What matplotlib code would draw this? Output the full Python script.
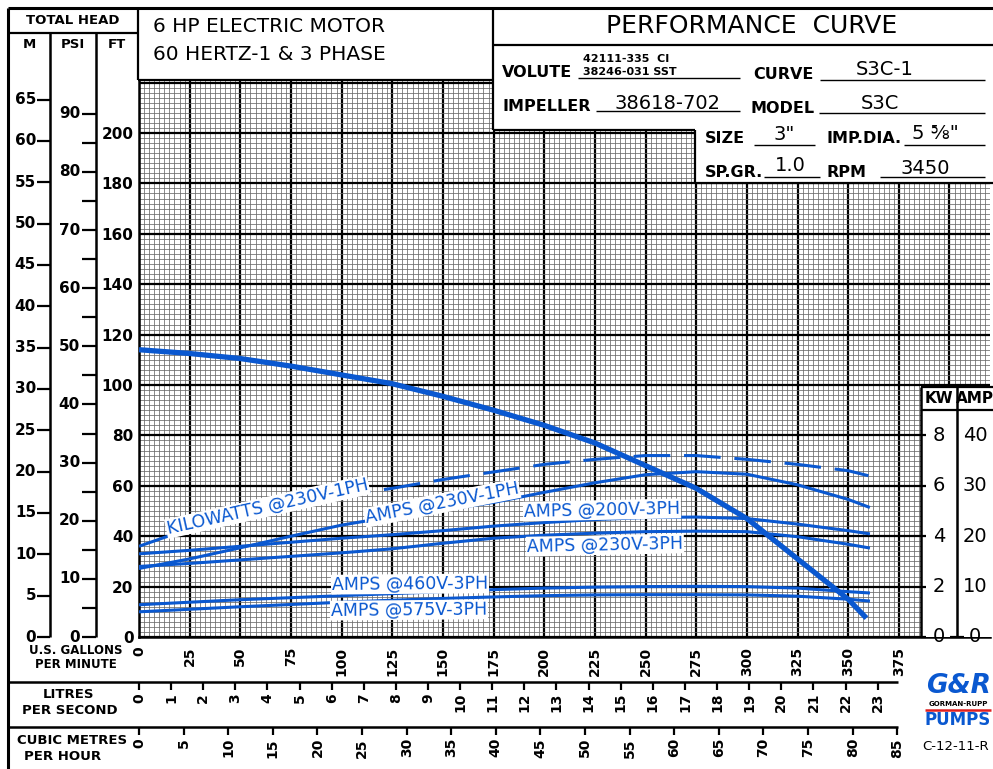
import numpy as np
import matplotlib.pyplot as plt
from matplotlib.lines import Line2D
from matplotlib.patches import Rectangle

BLUE = '#0a58d0'

# ---- values ----
gpm_head = [0, 25, 50, 75, 100, 125, 150, 175, 200, 225, 250, 275, 300, 325, 350, 359]
head_ft = [114, 112.5, 110.5, 107.5, 104, 100.5, 95.5, 90, 84, 77, 68, 59, 47, 31, 15, 7.5]

gpm_pts = [0, 25, 50, 75, 100, 125, 150, 175, 200, 225, 250, 275, 300, 325, 350, 360]
kw_230_1ph = [3.6, 4.3, 4.9, 5.25, 5.6, 5.9, 6.25, 6.55, 6.85, 7.05, 7.2, 7.2, 7.05, 6.85, 6.6, 6.4]
amps_230_1ph = [13.6, 15.5, 17.7, 20.0, 22.2, 23.9, 25.2, 26.7, 28.7, 30.6, 32.2, 32.8, 32.3, 30.2, 27.3, 25.8]
amps_200_3ph = [16.5, 17.2, 18.0, 18.8, 19.6, 20.3, 21.1, 22.0, 22.7, 23.3, 23.7, 23.8, 23.5, 22.4, 21.1, 20.5]
amps_230_3ph = [14.0, 14.6, 15.3, 16.0, 16.7, 17.5, 18.6, 19.6, 20.2, 20.6, 20.9, 21.0, 20.9, 19.9, 18.4, 17.7]
amps_460_3ph = [6.4, 6.9, 7.4, 7.8, 8.2, 8.6, 9.0, 9.4, 9.7, 9.9, 10.0, 10.05, 10.0, 9.7, 9.0, 8.75]
amps_575_3ph = [5.0, 5.5, 6.0, 6.45, 6.9, 7.3, 7.65, 7.95, 8.2, 8.35, 8.4, 8.4, 8.35, 8.1, 7.5, 7.15]

gpm_labels = list(range(0, 376, 25))
lps_labels = list(range(0, 24))
m3h_labels = list(range(0, 86, 5))
ft_labels = list(range(0, 201, 20))
m_ticks = list(range(0, 66, 5))
psi_ticks = list(range(0, 91, 5))
kw_labels = [0, 2, 4, 6, 8]
amp_labels = [0, 10, 20, 30, 40]

# ---- layout in pixels ----
W, H = 993, 769
X0, X1, Y0, Y1 = 139, 990, 637, 80
GPM_MAX = 420.0
FT_MAX = (Y0 - Y1) / 2.52
SX = (X1 - X0) / GPM_MAX
SY = (Y0 - Y1) / FT_MAX
FT_PER_M = 3.2808
FT_PER_PSI = 2.3067
GPM_PER_LPS = 15.850
GPM_PER_M3H = 4.4029


def fx(x):
    return x / W


def fy(y):
    return 1 - y / H


def line(xs, ys, lw=1.6, color='black', z=4):
    fig.add_artist(Line2D([fx(v) for v in xs], [fy(v) for v in ys],
                          transform=fig.transFigure, color=color, lw=lw, zorder=z,
                          solid_capstyle='butt'))


def text(x, y, s, **kw):
    kw.setdefault('zorder', 5)
    fig.text(fx(x), fy(y), s, **kw)


def white(x0, y0, x1, y1):
    fig.add_artist(Rectangle((fx(x0), fy(y1)), (x1 - x0) / W, (y1 - y0) / H,
                             transform=fig.transFigure, facecolor='white',
                             edgecolor='none', zorder=3))


fig = plt.figure(figsize=(W / 100, H / 100), dpi=100)

ax = fig.add_axes([fx(X0), fy(Y0), (X1 - X0) / W, (Y0 - Y1) / H])
ax.set_xlim(0, GPM_MAX)
ax.set_ylim(0, FT_MAX)
ax.set_xticks(np.arange(0, 401, 25))
ax.set_xticks(np.arange(0, GPM_MAX, 2.5), minor=True)
ax.set_yticks(np.arange(0, 221, 20))
ax.set_yticks(np.arange(0, FT_MAX, 2), minor=True)
ax.grid(which='minor', color='#6a6a6a', lw=0.55)
ax.grid(which='major', color='black', lw=1.6)
ax.set_axisbelow(True)
ax.tick_params(which='both', length=0)
ax.set_xticklabels([str(v) if v in gpm_labels else '' for v in range(0, 401, 25)],
                   rotation=90, fontsize=10, fontweight='bold')
ax.set_yticklabels([str(v) if v in ft_labels else '' for v in range(0, 221, 20)],
                   fontsize=11, fontweight='bold')
ax.tick_params(axis='x', pad=7)
ax.tick_params(axis='y', pad=4)
for s in ['top', 'right']:
    ax.spines[s].set_visible(False)
ax.spines['left'].set_linewidth(1.8)
ax.spines['bottom'].set_linewidth(1.8)

ax_kw = ax.twinx()
ax_kw.set_ylim(0, FT_MAX / 10)
ax_kw.axis('off')
ax_amp = ax.twinx()
ax_amp.set_ylim(0, FT_MAX / 2)
ax_amp.axis('off')

ax_kw.plot(gpm_pts, kw_230_1ph, color=BLUE, lw=2.2, ls=(0, (12, 4.5)))
for a in [amps_230_1ph, amps_200_3ph, amps_230_3ph, amps_460_3ph, amps_575_3ph]:
    ax_amp.plot(gpm_pts, a, color=BLUE, lw=2.2)
ax_hd = ax.twinx()
ax_hd.set_ylim(0, FT_MAX)
ax_hd.axis('off')
ax_hd.plot(gpm_head, head_ft, color=BLUE, lw=3.8, solid_capstyle='butt')

# curve labels
lab = dict(color=BLUE, fontsize=12.5, rotation_mode='anchor', zorder=6,
           bbox=dict(facecolor='white', edgecolor='none', pad=0.6))
text(168, 534, 'KILOWATTS @230V-1PH', ha='left', va='baseline', rotation=12.5, **lab)
text(442, 503, 'AMPS @230V-1PH', ha='center', va='center', rotation=11, **lab)
text(602, 510, 'AMPS @200V-3PH', ha='center', va='center', rotation=1.2, **lab)
text(605, 545, 'AMPS @230V-3PH', ha='center', va='center', rotation=1.2, **lab)
text(410, 584, 'AMPS @460V-3PH', ha='center', va='center', rotation=0.5, **lab)
text(409, 610, 'AMPS @575V-3PH', ha='center', va='center', rotation=0.5, **lab)

# masks for the header and the KW/AMP column
white(0, 0, W, 80)
white(493, 80, W, 130)
white(695, 130, W, 183)
white(921, 387, W, 637)
white(X1, 183, W, 387)

# frame lines
line([8, 8], [8, H], lw=2.2)
line([8, W], [8, 8], lw=2.2)
line([8, 138], [33, 33])
line([138, 138], [8, 80])
line([138, 493], [80, 80])
line([493, 493], [8, 130])
line([493, W], [45, 45])
line([493, 695], [130, 130])
line([695, 695], [130, 183])
line([695, W], [183, 183])
line([50, 50], [33, Y0], lw=1.8)
line([96, 96], [33, Y0], lw=1.8)
line([921, 921], [387, Y0], lw=1.8)
line([957, 957], [387, Y0], lw=1.8)
line([921, W], [387, 387])
line([921, W], [410, 410])
line([8, 898], [682, 682], lw=1.8)
line([8, 898], [727, 727], lw=1.8)

# header texts
text(73, 20, 'TOTAL HEAD', ha='center', va='center', fontsize=9.5, fontweight='bold')
text(29, 45, 'M', ha='center', va='center', fontsize=9.5, fontweight='bold')
text(73, 44, 'PSI', ha='center', va='center', fontsize=9.5, fontweight='bold')
text(117, 45, 'FT', ha='center', va='center', fontsize=9.5, fontweight='bold')
text(153, 26, '6 HP ELECTRIC MOTOR', ha='left', va='center', fontsize=14.5)
text(153, 54, '60 HERTZ-1 & 3 PHASE', ha='left', va='center', fontsize=14.5)
text(752, 26, 'PERFORMANCE  CURVE', ha='center', va='center', fontsize=18)

info = dict(ha='left', va='baseline', fontsize=11.5, fontweight='bold')
val = dict(ha='center', va='baseline', fontsize=14)
text(502, 77, 'VOLUTE', **info)
text(583, 62, '42111-335  CI', ha='left', va='baseline', fontsize=8, fontweight='bold')
text(583, 75, '38246-031 SST', ha='left', va='baseline', fontsize=8, fontweight='bold')
line([578, 740], [78, 78], lw=1)
text(753, 79, 'CURVE', **info)
text(885, 75, 'S3C-1', **val)
line([820, 985], [80, 80], lw=1)
text(502, 111, 'IMPELLER', **info)
text(668, 109, '38618-702', **val)
line([596, 740], [111, 111], lw=1)
text(750, 113, 'MODEL', **info)
text(880, 109, 'S3C', **val)
line([819, 985], [113, 113], lw=1)
text(705, 143, 'SIZE', **info)
text(784, 140, '3"', **val)
line([754, 815], [145, 145], lw=1)
text(826, 143, 'IMP.DIA.', **info)
text(935, 139, '5 \u215d"', **val)
line([904, 985], [145, 145], lw=1)
text(705, 177, 'SP.GR.', **info)
text(790, 171, '1.0', **val)
line([764, 820], [177, 177], lw=1)
text(826, 177, 'RPM', **info)
text(925, 174, '3450', **val)
line([880, 985], [177, 177], lw=1)

# left head scales
for m in m_ticks:
    y = Y0 - m * FT_PER_M * SY
    line([37, 50], [y, y], lw=1.6)
    text(36, y, str(m), ha='right', va='center', fontsize=11, fontweight='bold')
for p in psi_ticks:
    y = Y0 - p * FT_PER_PSI * SY
    line([82, 96], [y, y], lw=1.6)
    if p % 10 == 0:
        text(80, y, str(p), ha='right', va='center', fontsize=11, fontweight='bold')

# KW / AMP scale
text(939, 399, 'KW', ha='center', va='center', fontsize=11, fontweight='bold')
text(975, 399, 'AMP', ha='center', va='center', fontsize=11, fontweight='bold')
for k, a in zip(kw_labels, amp_labels):
    y = Y0 - k * 10 * SY
    line([921, 926], [y, y], lw=1.6)
    text(939, y, str(k), ha='center', va='center', fontsize=14)
    text(975, y, str(a), ha='center', va='center', fontsize=14)
line([950, 964], [Y0, Y0], lw=1.6)

# bottom flow scales
text(76, 651, 'U.S. GALLONS', ha='center', va='center', fontsize=8.5, fontweight='bold')
text(76, 664, 'PER MINUTE', ha='center', va='center', fontsize=8.5, fontweight='bold')
text(68, 695, 'LITRES', ha='center', va='center', fontsize=9.5, fontweight='bold')
text(70, 711, 'PER SECOND', ha='center', va='center', fontsize=9.5, fontweight='bold')
text(72, 741, 'CUBIC METRES', ha='center', va='center', fontsize=9.5, fontweight='bold')
text(63, 757, 'PER HOUR', ha='center', va='center', fontsize=9.5, fontweight='bold')
for l in lps_labels:
    x = X0 + l * GPM_PER_LPS * SX
    line([x, x], [682, 690], lw=1.6)
    text(x, 693, str(l), ha='center', va='top', rotation=90, fontsize=10, fontweight='bold')
for c in m3h_labels:
    x = X0 + c * GPM_PER_M3H * SX
    line([x, x], [727, 735], lw=1.6)
    text(x, 738, str(c), ha='center', va='top', rotation=90, fontsize=10, fontweight='bold')

# logo and drawing number
text(958, 686, 'G&R', ha='center', va='center', fontsize=19, fontweight='bold',
     fontstyle='italic', color=BLUE)
text(958, 704, 'GORMAN-RUPP', ha='center', va='center', fontsize=5, fontweight='bold')
line([925, 991], [710, 710], lw=1.8, color='#e02020')
text(958, 720, 'PUMPS', ha='center', va='center', fontsize=12, fontweight='bold', color=BLUE)
text(922, 747, 'C-12-11-R', ha='left', va='center', fontsize=9.5)

fig.savefig('out.png', dpi=100)
